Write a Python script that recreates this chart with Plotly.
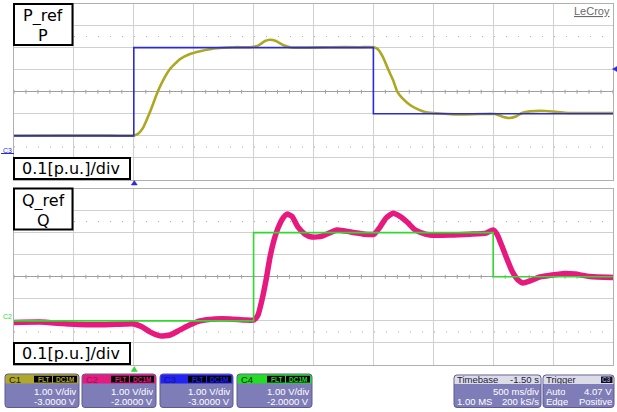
import numpy as np
import plotly.graph_objects as go

W, H = 617, 412

# ---- waveform data (time in s, 0.5 s/div; amplitude in p.u., 0.1 p.u./div) ----
pref_t = [0.0, 1.0, 1.0, 3.0, 3.0, 5.0]
pref_v = [-0.20, -0.20, 0.20, 0.20, -0.10, -0.10]

p_t = [0.000, 0.384, 0.718, 1.000, 1.035, 1.077, 1.135, 1.202, 1.260, 1.302,
       1.386, 1.469, 1.553, 1.636, 1.720, 1.845, 1.970, 2.037, 2.095, 2.137,
       2.187, 2.245, 2.304, 2.387, 2.638, 2.888, 3.005, 3.038, 3.080, 3.122,
       3.164, 3.197, 3.239, 3.306, 3.372, 3.431, 3.497, 3.723, 3.890, 4.015,
       4.073, 4.132, 4.190, 4.240, 4.307, 4.432, 4.541, 4.624, 5.000]
p_v = [-0.198, -0.197, -0.197, -0.198, -0.191, -0.164, -0.092, 0.003, 0.067, 0.103,
       0.148, 0.171, 0.184, 0.193, 0.198, 0.202, 0.202, 0.209, 0.230, 0.236,
       0.230, 0.212, 0.202, 0.200, 0.202, 0.202, 0.202, 0.193, 0.157, 0.103,
       0.053, 0.003, -0.028, -0.060, -0.080, -0.092, -0.096, -0.103, -0.101, -0.101,
       -0.112, -0.119, -0.112, -0.096, -0.089, -0.087, -0.092, -0.096, -0.096]

qref_t = [0.0, 2.0, 2.0, 4.0, 4.0, 5.0]
qref_v = [-0.20, -0.20, 0.20, 0.20, 0.0, 0.0]

q_t = [0.000, 0.217, 0.467, 0.718, 0.927, 1.002, 1.068, 1.135, 1.219, 1.302,
       1.386, 1.469, 1.553, 1.678, 1.803, 1.928, 2.003, 2.037, 2.070, 2.104,
       2.137, 2.170, 2.204, 2.245, 2.279, 2.320, 2.371, 2.429, 2.487, 2.571,
       2.696, 2.821, 2.930, 3.005, 3.055, 3.105, 3.164, 3.222, 3.281, 3.339,
       3.389, 3.472, 3.639, 3.806, 3.940, 3.998, 4.032, 4.073, 4.115, 4.157,
       4.207, 4.249, 4.307, 4.391, 4.491, 4.599, 4.683, 4.808, 5.000]
q_v = [-0.207, -0.205, -0.214, -0.218, -0.214, -0.214, -0.227, -0.250, -0.268, -0.264,
       -0.241, -0.218, -0.200, -0.191, -0.191, -0.196, -0.196, -0.173, -0.105, -0.015,
       0.089, 0.166, 0.221, 0.266, 0.284, 0.274, 0.225, 0.193, 0.180, 0.184,
       0.212, 0.202, 0.193, 0.193, 0.225, 0.266, 0.288, 0.274, 0.248, 0.216,
       0.202, 0.189, 0.189, 0.193, 0.198, 0.212, 0.193, 0.139, 0.080, 0.026,
       -0.015, -0.028, -0.019, -0.001, 0.008, 0.015, 0.012, 0.001, -0.003]

# channel readouts
ch_names = ["C1", "C2", "C3", "C4"]
ch_scale = ["1.00 V/div", "1.00 V/div", "1.00 V/div", "1.00 V/div"]
ch_offset = ["-3.0000 V", "-2.0000 V", "-3.0000 V", "-2.0000 V"]
ch_colors = ["#b0a82a", "#e41c80", "#2222f2", "#22dd22"]
ch_text = ["#1c1c00", "#a01050", "#14148c", "#0a2a0a"]

C_PREF, C_P = "#2a2ad8", "#aca822"
C_QREF, C_Q = "#30d830", "#e8197e"
GRID, BORDER, AXIS = "#d0d0d0", "#b0b0b0", "#a0a0a0"
BODY = "#7f7db8"
FONT_UI = "Liberation Sans"


def X(x):
    return x / W


def Y(y):
    return 1 - y / H


def rpath(x0, y0, x1, y1, r, top_only=False):
    rb = 0 if top_only else r
    return (f"M {X(x0 + r)},{Y(y0)} L {X(x1 - r)},{Y(y0)} "
            f"Q {X(x1)},{Y(y0)} {X(x1)},{Y(y0 + r)} "
            f"L {X(x1)},{Y(y1 - rb)} Q {X(x1)},{Y(y1)} {X(x1 - rb)},{Y(y1)} "
            f"L {X(x0 + rb)},{Y(y1)} Q {X(x0)},{Y(y1)} {X(x0)},{Y(y1 - rb)} "
            f"L {X(x0)},{Y(y0 + r)} Q {X(x0)},{Y(y0)} {X(x0 + r)},{Y(y0)} Z")


fig = go.Figure()

fig.add_trace(go.Scatter(x=p_t, y=p_v, mode="lines", xaxis="x", yaxis="y",
                         line=dict(color=C_P, width=2.6, shape="spline", smoothing=0.5)))
fig.add_trace(go.Scatter(x=pref_t, y=pref_v, mode="lines", xaxis="x", yaxis="y",
                         line=dict(color=C_PREF, width=1.6)))
fig.add_trace(go.Scatter(x=q_t, y=q_v, mode="lines", xaxis="x2", yaxis="y2",
                         line=dict(color=C_Q, width=5.5, shape="spline", smoothing=0.5)))
fig.add_trace(go.Scatter(x=qref_t, y=qref_v, mode="lines", xaxis="x2", yaxis="y2",
                         line=dict(color=C_QREF, width=1.6)))

xdom = [X(14), X(613)]
ax_common = dict(showgrid=True, gridcolor=GRID, gridwidth=1, showticklabels=False,
                 ticks="", showline=True, linecolor=BORDER, linewidth=1, mirror=True,
                 fixedrange=True)
fig.update_layout(
    width=W, height=H, margin=dict(l=0, r=0, t=0, b=0),
    paper_bgcolor="white", plot_bgcolor="white", showlegend=False,
    xaxis=dict(domain=xdom, range=[0, 5], dtick=0.5, tick0=0, zeroline=False,
               anchor="y", **ax_common),
    yaxis=dict(domain=[Y(180), Y(3.5)], range=[-0.4, 0.4], dtick=0.1, tick0=0,
               zeroline=True, zerolinecolor=AXIS, zerolinewidth=1, anchor="x", **ax_common),
    xaxis2=dict(domain=xdom, range=[0, 5], dtick=0.5, tick0=0, zeroline=False,
                anchor="y2", **ax_common),
    yaxis2=dict(domain=[Y(365), Y(188.5)], range=[-0.4, 0.4], dtick=0.1, tick0=0,
                zeroline=True, zerolinecolor=AXIS, zerolinewidth=1, anchor="x2", **ax_common),
)

shapes = []
annots = []

# graticule details: minor ticks on the centre axis and dotted rows
for xr, yr in (("x", "y"), ("x2", "y2")):
    for t in np.arange(0, 5.0001, 0.1):
        shapes.append(dict(type="line", xref=xr, yref=yr, x0=t, x1=t, y0=-0.009, y1=0.009,
                           line=dict(color=AXIS, width=1), layer="below"))
    for yv in (0.25, -0.25):
        shapes.append(dict(type="line", xref=xr, yref=yr, x0=0, x1=5, y0=yv, y1=yv,
                           line=dict(color="#a8a8a8", width=1, dash="1px,11px"), layer="below"))


def label_box(x0, y0, x1, y1):
    shapes.append(dict(type="rect", xref="paper", yref="paper", x0=X(x0), x1=X(x1),
                       y0=Y(y1), y1=Y(y0), fillcolor="white",
                       line=dict(color="black", width=2), layer="above"))


def text(x, y, s, size, color="black", xanchor="center", family="DejaVu Sans", h=None):
    a = dict(x=X(x), y=Y(y), xref="paper", yref="paper", text=s, showarrow=False,
             xanchor=xanchor, yanchor="middle", borderpad=0,
             font=dict(family=family, size=size, color=color))
    if h is not None:
        a["height"] = h
    annots.append(a)


# trace name and scale boxes
label_box(14, 4, 72.5, 45)
text(43.5, 16, "P_ref", 16, h=19)
text(43.5, 35.5, "P", 16, h=17)
label_box(14, 158, 130, 179)
text(71, 168.5, "0.1[p.u.]/div", 16, h=19)
label_box(14, 188.5, 72.5, 229.5)
text(43.5, 200.5, "Q_ref", 16, h=19)
text(43.5, 220, "Q", 16, h=17)
label_box(14, 343, 130, 364)
text(71, 353.5, "0.1[p.u.]/div", 16, h=19)

text(611, 11, "<u>LeCroy</u>", 11, "#6a6a6a", "right", FONT_UI)


# markers: trigger position, channel offsets
def tri(pts, color):
    p = "M " + " L ".join(f"{X(a)},{Y(b)}" for a, b in pts) + " Z"
    shapes.append(dict(type="path", xref="paper", yref="paper", path=p,
                       fillcolor=color, line=dict(color=color, width=0.5)))


tri([(131.3, 185), (137.3, 185), (134.3, 180.5)], C_PREF)
tri([(131.3, 371.5), (137.3, 371.5), (134.3, 366.5)], C_QREF)
tri([(612.5, 69), (617, 66.5), (617, 71.5)], C_PREF)
text(7, 150, "C3", 7, C_PREF, "center", FONT_UI)
shapes.append(dict(type="line", xref="paper", yref="paper", x0=X(1), x1=X(14),
                   y0=Y(153.5), y1=Y(153.5), line=dict(color=C_PREF, width=1)))
text(7, 316, "C2", 7, C_QREF, "center", FONT_UI)

# channel readout panels
box_x = [(5, 79), (82, 156), (160, 233), (237, 312)]
for (x0, x1), name, sc, off, col, tc in zip(box_x, ch_names, ch_scale, ch_offset,
                                             ch_colors, ch_text):
    shapes.append(dict(type="path", xref="paper", yref="paper", path=rpath(x0, 374, x1, 407.5, 3),
                       fillcolor=BODY, line=dict(color="#5c5a94", width=1)))
    shapes.append(dict(type="path", xref="paper", yref="paper",
                       path=rpath(x0 + 0.5, 374.5, x1 - 0.5, 383.5, 3, top_only=True),
                       fillcolor=col, line=dict(width=0)))
    shapes.append(dict(type="rect", xref="paper", yref="paper", x0=X(x1 - 45), x1=X(x1 - 27),
                       y0=Y(382.5), y1=Y(375.8), fillcolor="black", line=dict(width=0)))
    shapes.append(dict(type="rect", xref="paper", yref="paper", x0=X(x1 - 26), x1=X(x1 - 2),
                       y0=Y(382.5), y1=Y(375.8), fillcolor="black", line=dict(width=0)))
    text(x0 + 3, 379, name, 9.5, tc, "left", FONT_UI, h=9)
    text(x1 - 36, 379.2, "<b>FLT</b>", 6.5, col, "center", FONT_UI, h=7)
    text(x1 - 14, 379.2, "<b>DC1M</b>", 6.5, col, "center", FONT_UI, h=7)
    text(x1 - 2, 391, sc, 9.5, "white", "right", FONT_UI, h=9)
    text(x1 - 2, 401.5, off, 9.5, "white", "right", FONT_UI, h=9)

# timebase / trigger panels
for x0, x1 in ((454, 541), (543, 614)):
    shapes.append(dict(type="path", xref="paper", yref="paper", path=rpath(x0, 375, x1, 407.5, 3),
                       fillcolor=BODY, line=dict(color="#5c5a94", width=1)))
    shapes.append(dict(type="path", xref="paper", yref="paper",
                       path=rpath(x0 + 0.5, 375.5, x1 - 0.5, 384, 3, top_only=True),
                       fillcolor="#dcdce6", line=dict(width=0)))

text(456, 379.8, "Timebase", 9.5, "#202040", "left", FONT_UI, h=9)
text(540, 379.8, "-1.50 s", 9.5, "#202040", "right", FONT_UI, h=9)
text(540, 391, "500 ms/div", 9.5, "white", "right", FONT_UI, h=9)
text(456, 401.5, "1.00 MS", 9.5, "white", "left", FONT_UI, h=9)
text(540, 401.5, "200 kS/s", 9.5, "white", "right", FONT_UI, h=9)

text(545, 379.8, "Trigger", 9.5, "#202040", "left", FONT_UI, h=9)
shapes.append(dict(type="rect", xref="paper", yref="paper", x0=X(601), x1=X(612.5),
                   y0=Y(383), y1=Y(376.5), fillcolor="#101020", line=dict(width=0)))
text(606.8, 379.8, "<b>C3</b>", 6.5, "#9090c0", "center", FONT_UI, h=7)
text(545, 391, "Auto", 9.5, "white", "left", FONT_UI, h=9)
text(613, 391, "4.07 V", 9.5, "white", "right", FONT_UI, h=9)
text(545, 401.5, "Edge", 9.5, "white", "left", FONT_UI, h=9)
text(613, 401.5, "Positive", 9.5, "white", "right", FONT_UI, h=9)

fig.update_layout(shapes=shapes, annotations=annots)
fig.write_html("out.html")
